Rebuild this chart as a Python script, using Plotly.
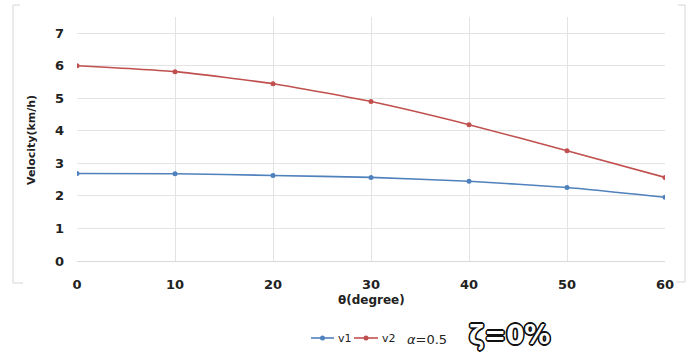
import plotly.graph_objects as go

theta = [0, 10, 20, 30, 40, 50, 60]
v1 = [2.69, 2.68, 2.63, 2.57, 2.45, 2.26, 1.96]
v2 = [6.00, 5.82, 5.45, 4.90, 4.19, 3.39, 2.57]
x_ticks = [0, 10, 20, 30, 40, 50, 60]
y_ticks = [0, 1, 2, 3, 4, 5, 6, 7]
series_names = ["v1", "v2"]
series_colors = ["#4f81bd", "#c0504d"]

fnt = "DejaVu Sans"
fig = go.Figure()
for name, vals, col in zip(series_names, [v1, v2], series_colors):
    fig.add_trace(go.Scatter(x=theta, y=vals, name=name, mode="lines+markers",
                             line=dict(color=col, width=1.6, shape="spline", smoothing=0.5),
                             marker=dict(size=5, color=col), showlegend=False))


def dx(px):
    return (px - 77) / (665 - 77)


def dy(py):
    return (261 - py) / (261 - 17)


fig.update_layout(
    width=693, height=358,
    margin=dict(l=77, r=28, t=17, b=97),
    paper_bgcolor="white", plot_bgcolor="white",
    font=dict(family=fnt, color="#222"),
    xaxis=dict(range=[0, 60], tickvals=x_ticks, showgrid=True, gridcolor="#e3e3e3",
               zeroline=False, showline=True, linecolor="#d9d9d9", automargin=False,
               tickfont=dict(size=13, family=fnt, weight="bold"),
               ticks="", ticklabelstandoff=11),
    yaxis=dict(range=[0, 7.5], tickvals=y_ticks, showgrid=True, gridcolor="#e3e3e3",
               zeroline=False, showline=False, automargin=False,
               tickfont=dict(size=13, family=fnt, weight="bold"),
               ticks="", ticklabelstandoff=12),
    showlegend=False,
)

# axis titles
fig.add_annotation(x=dx(371), y=dy(300), xref="x domain", yref="y domain", text="θ(degree)",
                   xanchor="center", yanchor="middle", showarrow=False,
                   font=dict(size=12, family=fnt, weight="bold", color="#222"))
fig.add_annotation(x=dx(31), y=dy(140), xref="x domain", yref="y domain", text="Velocity(km/h)",
                   xanchor="center", yanchor="middle", showarrow=False, textangle=-90,
                   font=dict(size=11, family=fnt, weight="bold", color="#222"))

# manual legend
leg_y = dy(338)
for (x0, x1, tx), name, col in zip([(311, 334, 336), (354, 378, 380)], series_names, series_colors):
    fig.add_shape(type="line", xref="x domain", yref="y domain", x0=dx(x0), x1=dx(x1),
                  y0=leg_y, y1=leg_y, line=dict(color=col, width=1.6))
    cx = (x0 + x1) / 2
    fig.add_shape(type="circle", xref="x domain", yref="y domain",
                  x0=dx(cx - 2.5), x1=dx(cx + 2.5), y0=dy(340.5), y1=dy(335.5),
                  fillcolor=col, line=dict(color=col, width=0))
    fig.add_annotation(x=dx(tx), y=leg_y, xref="x domain", yref="y domain", text=name,
                       xanchor="left", yanchor="middle", showarrow=False,
                       font=dict(size=11, family=fnt, color="#222"))

fig.add_annotation(x=dx(427), y=dy(339), xref="x domain", yref="y domain", text="<i>α</i>=0.5",
                   xanchor="center", yanchor="middle",
                   showarrow=False, font=dict(size=13, family=fnt, color="#222"))
sh = ", ".join(f"{a}px {b}px 0 #111" for a, b in
               [(1.2, 1.2), (-1.2, -1.2), (1.2, -1.2), (-1.2, 1.2), (0, 1.6), (0, -1.6), (1.6, 0), (-1.6, 0)])
fig.add_annotation(x=dx(509), y=dy(335), xref="x domain", yref="y domain", text="ζ=0%",
                   xanchor="center", yanchor="middle",
                   showarrow=False,
                   font=dict(size=26, family=fnt, color="white", weight="bold", shadow=sh))

# faint outer frame pieces
frame = "#d6d6d6"
for (x0, y0, x1, y1) in [(13, 5, 13, 283), (13, 283, 23, 283), (685, 5, 685, 282), (676, 282, 685, 282),
                         (13, 5, 20, 5), (678, 5, 685, 5)]:
    fig.add_shape(type="line", xref="paper", yref="paper",
                  x0=dx(x0), x1=dx(x1), y0=dy(y0), y1=dy(y1),
                  line=dict(color=frame, width=1))

fig.write_html("out.html")
